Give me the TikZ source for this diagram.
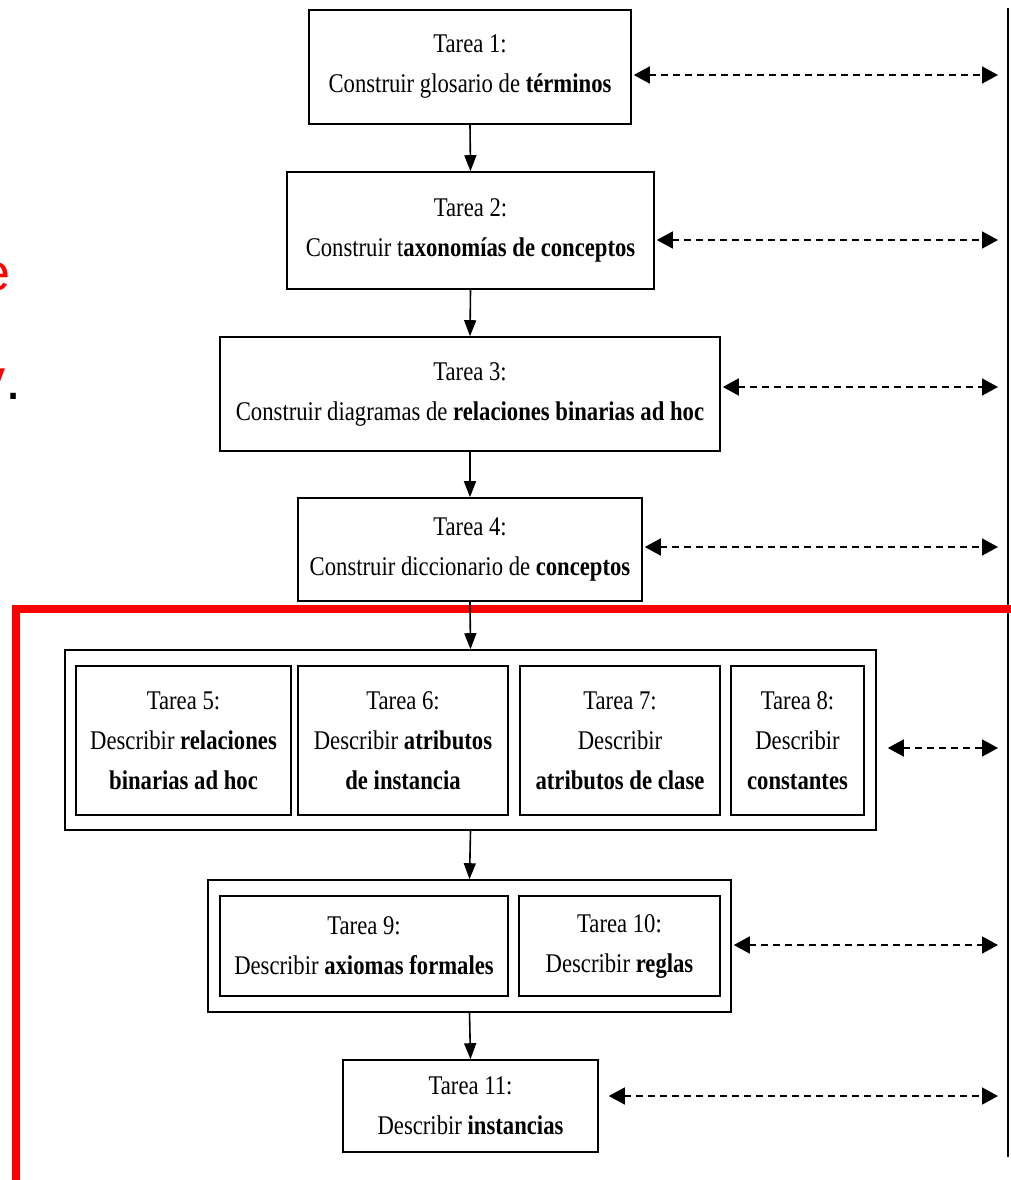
\documentclass[tikz,border=0pt]{standalone}
\usepackage{fontspec}
\setmainfont[FakeStretch=0.84]{Liberation Serif}
\newfontfamily\redfont{Liberation Sans}
\usetikzlibrary{arrows.meta,calc}
\begin{document}
\begin{tikzpicture}[x=1pt,y=-1pt,
  box/.style={draw,line width=1.6pt,align=center,inner sep=0pt,
    font=\fontsize{27}{40}\selectfont},
  grp/.style={draw,line width=1.6pt,inner sep=0pt},
  flow/.style={line width=1.6pt,-{Triangle[length=16pt,width=12pt]}},
  link/.style={line width=1.6pt,dash pattern=on 7pt off 5pt,
    {Triangle[length=16pt,width=17pt]}-{Triangle[length=16pt,width=17pt]}}]
\useasboundingbox (0,0) rectangle (1010,1180);
% left red fragments
\node[anchor=base east,inner sep=0pt,text=red,font=\redfont\fontsize{52}{52}\selectfont] (fe) at (11,290) {e};
\node[anchor=base east,inner sep=0pt,font=\redfont\fontsize{58}{58}\selectfont] (fy) at (22,399) {{\color{red}\bfseries y}.};
% right vertical line
\coordinate (vt) at (1008,8);
\coordinate (vb) at (1008,1157);
\draw[line width=1.6pt] (vt) -- (vb);
% red frame
\coordinate (ra) at (1012,609);
\coordinate (rb) at (16,609);
\coordinate (rc) at (16,1185);
\draw[red,line width=8pt] (ra) -- (rb) -- (rc);
% boxes
\node[box,minimum width=322,minimum height=114] (b1) at (470,67) {Tarea 1:\\Construir glosario de \textbf{términos}};
\node[box,minimum width=367,minimum height=117] (b2) at (470.5,230.5) {Tarea 2:\\Construir t\textbf{axonomías de conceptos}};
\node[box,minimum width=500,minimum height=114] (b3) at (470,394) {Tarea 3:\\Construir diagramas de \textbf{relaciones binarias ad hoc}};
\node[box,minimum width=344,minimum height=103] (b4) at (470,549.5) {Tarea 4:\\Construir diccionario de \textbf{conceptos}};
% group 1
\node[grp,minimum width=811,minimum height=180] (g1) at (470.5,740) {};
\node[box,minimum width=215,minimum height=149] (b5) at (183.5,740.5) {Tarea 5:\\Describir \textbf{relaciones}\\\textbf{binarias ad hoc}};
\node[box,minimum width=210,minimum height=149] (b6) at (403,740.5) {Tarea 6:\\Describir \textbf{atributos}\\\textbf{de instancia}};
\node[box,minimum width=200,minimum height=149] (b7) at (620,740.5) {Tarea 7:\\Describir\\\textbf{atributos de clase}};
\node[box,minimum width=133,minimum height=149] (b8) at (797.5,740.5) {Tarea 8:\\Describir\\\textbf{constantes}};
% group 2
\node[grp,minimum width=523,minimum height=132] (g2) at (469.5,946) {};
\node[box,minimum width=288,minimum height=100] (b9) at (364,946) {Tarea 9:\\Describir \textbf{axiomas formales}};
\node[box,minimum width=201,minimum height=100] (b10) at (619.5,946) {Tarea 10:\\Describir \textbf{reglas}};
% box 11
\node[box,minimum width=255,minimum height=92] (b11) at (470.5,1106) {Tarea 11:\\Describir \textbf{instancias}};
% flow arrows
\draw[flow] (b1.south) -- (b2.north);
\draw[flow] (b2.south) -- (b3.north);
\draw[flow] (b3.south) -- (b4.north);
\draw[flow] (b4.south) -- (g1.north);
\draw[flow] (g1.south) -- (g2.north);
\draw[flow] (g2.south) -- (b11.north);
% dashed links
\coordinate (r1) at (998,75);
\coordinate (r2) at (998,240);
\coordinate (r3) at (998,387);
\coordinate (r4) at (998,547);
\coordinate (r5) at (998,748);
\coordinate (r6) at (998,945);
\coordinate (r7) at (998,1096);
\draw[link] ($(b1.east |- r1)+(2,0)$) -- (r1);
\draw[link] ($(b2.east |- r2)+(2,0)$) -- (r2);
\draw[link] ($(b3.east |- r3)+(2,0)$) -- (r3);
\draw[link] ($(b4.east |- r4)+(2,0)$) -- (r4);
\draw[link] ($(g1.east |- r5)+(11,0)$) -- (r5);
\draw[link] ($(g2.east |- r6)+(2,0)$) -- (r6);
\draw[link] ($(b11.east |- r7)+(10,0)$) -- (r7);
\end{tikzpicture}
\end{document}
